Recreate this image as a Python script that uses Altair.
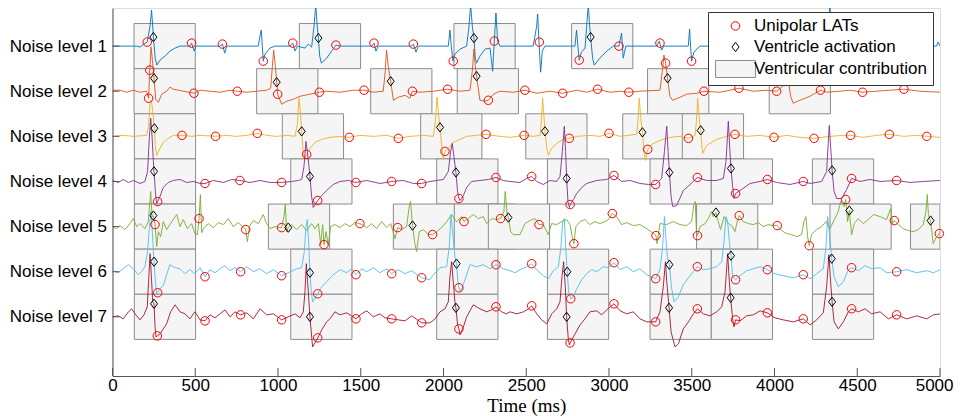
import altair as alt
import pandas as pd

ROW_LABELS = ["Noise level 1", "Noise level 2", "Noise level 3", "Noise level 4",
              "Noise level 5", "Noise level 6", "Noise level 7"]
ROW_COLORS = ["#0072BD", "#D95319", "#EDB120", "#7E2F8E", "#77AC30", "#4DBEEE", "#A2142F"]
SPACING = 45          # vertical offset between stacked traces (a.u.)
BOX_MS = 370          # width of a ventricular contribution window (ms)
X_TICKS = [0, 500, 1000, 1500, 2000, 2500, 3000, 3500, 4000, 4500, 5000]
KINDS = ["Unipolar LATs", "Ventricle activation", "Ventricular contribution"]

# ---- traces: (time ms, amplitude a.u.) ----
trace1 = [(0,0),(146,0),(166,-1),(190,2),(210,4),(227,20),(236,36),(243,20),(247,9),(258,-12),(268,-19),
          (287,-14),(317,-10),(347,-5),(378,-2),(408,0),(468,0),(478,3),(494,-5),(505,0),(650,0),(664,2),
          (678,-7),(690,0),(881,0),(891,10),(899,16),(905,0),(911,-15),(921,-8),(952,-2),(982,0),(1072,0),
          (1089,3),(1103,-5),(1117,0),(1163,-2),(1183,2),(1203,-1),(1218,20),(1228,41),(1237,20),(1244,8),
          (1252,-10),(1262,-17),(1294,-12),(1324,-5),(1350,1),(1375,0),(1566,0),(1580,3),(1592,-5),(1606,0),
          (1808,0),(1818,2),(1834,-6),(1848,0),(2029,0),(2039,16),(2047,0),(2057,-15),(2069,-8),(2100,-3),
          (2140,0),(2154,20),(2164,41),(2174,20),(2184,8),(2192,-12),(2200,-17),(2220,-10),(2251,-3),
          (2281,-2),(2297,-25),(2307,5),(2317,33),(2327,5),(2341,0),(2542,0),(2563,20),(2569,32),(2577,4),
          (2583,-15),(2587,-26),(2597,-5),(2613,0),(2794,0),(2804,16),(2812,0),(2820,-14),(2834,-6),
          (2855,-2),(2865,20),(2875,41),(2883,20),(2889,9),(2901,-12),(2911,-19),(2945,-12),(2986,-5),
          (3026,0),(3060,0),(3076,13),(3086,-12),(3102,0),(3288,0),(3304,5),(3318,-4),(3332,0),(3479,0),
          (3487,17),(3493,0),(3499,-15),(3513,-6),(3549,0),(4315,0),(4325,20),(4335,41),(4345,10),
          (4355,-15),(4370,-8),(4400,0),(4979,0),(4989,4),(5000,0)]
trace2 = [(0,1),(45,1),(86,-1),(126,1),(166,-1),(206,0),(218,-7),(225,21),(233,44),(243,28),(251,13),
          (261,-8),(277,-11),(297,-3),(327,0),(347,4),(368,2),(428,0),(492,-2),(529,1),(589,0),(650,-1),
          (710,1),(754,0),(811,-1),(871,0),(931,1),(956,3),(966,25),(974,41),(984,25),(992,9),(998,-3),
          (1022,-13),(1052,-10),(1093,-8),(1133,-5),(1193,-3),(1250,-1),(1294,0),(1375,-1),(1455,1),
          (1520,1),(1576,-1),(1636,0),(1648,20),(1656,41),(1666,25),(1681,10),(1697,-9),(1727,-6),
          (1767,-4),(1797,-7),(1812,0),(1858,-1),(1939,0),(2025,2),(2100,0),(2160,1),(2174,20),(2184,42),
          (2192,25),(2200,15),(2220,-9),(2251,-10),(2271,-9),(2301,-3),(2341,0),(2422,-1),(2492,1),
          (2563,-2),(2643,0),(2720,-2),(2804,1),(2865,-1),(2931,2),(3006,-1),(3066,0),(3120,-1),(3187,0),
          (3308,1),(3322,20),(3332,36),(3342,28),(3354,13),(3368,-5),(3384,-9),(3429,-6),(3469,-3),
          (3529,-2),(3574,0),(3670,-1),(3731,1),(3785,3),(3872,0),(3952,1),(4013,0),(4049,5),(4063,36),
          (4073,25),(4085,10),(4097,-5),(4113,-12),(4154,-9),(4214,-5),(4278,1),(4315,-1),(4395,0),
          (4456,1),(4532,-1),(4617,0),(4697,1),(4782,2),(4879,0),(5000,-1)]
trace3 = [(0,0),(65,1),(126,0),(206,1),(218,10),(227,34),(235,36),(243,25),(253,8),(259,-10),(267,-19),
          (287,-12),(307,-6),(337,-2),(368,1),(420,1),(478,0),(529,1),(623,0),(690,1),(750,0),(811,1),
          (875,3),(931,1),(992,0),(1052,1),(1103,0),(1117,12),(1127,38),(1135,25),(1143,5),(1153,-18),
          (1163,-22),(1173,-18),(1193,-12),(1224,-6),(1264,-3),(1314,-1),(1375,0),(1431,-1),(1495,1),
          (1576,0),(1657,1),(1727,-2),(1797,0),(1878,1),(1939,0),(1951,15),(1961,39),(1971,20),(1979,9),
          (1989,-10),(1999,-22),(2009,-15),(2029,-12),(2059,-6),(2100,-3),(2140,0),(2200,1),(2257,2),
          (2341,0),(2402,-1),(2487,1),(2543,0),(2583,1),(2591,15),(2599,38),(2607,20),(2613,5),(2624,-12),
          (2634,-19),(2654,-12),(2684,-7),(2724,-3),(2760,-2),(2805,0),(2885,1),(2946,0),(3000,3),(3067,0),
          (3167,2),(3175,15),(3183,38),(3191,20),(3202,4),(3212,-15),(3220,-24),(3234,-13),(3258,-8),
          (3308,-4),(3369,-1),(3429,0),(3480,-2),(3520,1),(3528,15),(3536,38),(3544,20),(3554,6),(3560,-8),
          (3566,-17),(3590,-9),(3651,-3),(3711,0),(3761,2),(3832,0),(3913,1),(3997,-1),(4074,1),(4154,-1),
          (4239,-2),(4335,0),(4416,1),(4460,1),(4537,-1),(4617,1),(4694,2),(4779,0),(4859,1),(4920,0),
          (5000,-1)]
trace4 = [(0,1),(35,-1),(65,2),(96,-1),(126,1),(166,-2),(196,0),(212,10),(223,45),(231,63),(239,45),
          (247,20),(251,10),(259,-10),(267,-22),(273,-20),(287,-15),(307,-6),(337,-1),(368,1),(408,2),
          (448,-1),(488,0),(529,-2),(559,-2),(609,1),(670,-1),(720,2),(770,1),(831,-1),(891,1),(952,-1),
          (1022,-1),(1083,0),(1123,1),(1143,2),(1157,15),(1169,40),(1177,30),(1187,15),(1193,5),(1203,-15),
          (1213,-26),(1240,-19),(1264,-14),(1294,-9),(1334,-3),(1375,0),(1425,1),(1471,-1),(1536,1),
          (1616,-2),(1687,0),(1757,1),(1818,-2),(1868,-2),(1918,0),(1959,1),(1999,2),(2029,10),(2043,30),
          (2053,38),(2063,25),(2075,9),(2085,-10),(2093,-17),(2100,-19),(2120,-14),(2140,-6),(2170,0),
          (2220,1),(2271,2),(2317,4),(2361,1),(2402,0),(2462,-1),(2503,3),(2533,5),(2563,0),(2603,-3),
          (2644,1),(2684,0),(2704,5),(2718,30),(2730,55),(2738,30),(2744,3),(2752,-20),(2761,-26),
          (2765,-23),(2785,-18),(2805,-12),(2835,-6),(2865,-2),(2926,1),(2986,2),(3030,6),(3077,0),
          (3127,1),(3187,-2),(3238,-3),(3282,-3),(3318,3),(3335,30),(3349,55),(3357,30),(3365,9),
          (3375,-15),(3385,-25),(3409,-24),(3449,-9),(3490,-3),(3534,4),(3590,1),(3651,1),(3691,3),
          (3707,20),(3721,60),(3729,35),(3737,13),(3747,-5),(3755,-17),(3765,-12),(3792,-9),(3852,-2),
          (3913,0),(3957,2),(4013,-1),(4094,-3),(4174,0),(4215,-2),(4285,0),(4315,10),(4331,56),(4339,35),
          (4348,11),(4360,-10),(4376,-17),(4406,-17),(4436,-8),(4466,3),(4517,0),(4577,2),(4638,0),
          (4738,1),(4819,-1),(4899,0),(5000,1)]
trace5 = [(0,0),(25,-2),(45,1),(75,-3),(106,3),(126,8),(146,0),(166,3),(196,-2),(216,5),(231,35),(239,10),
          (247,11),(257,2),(267,-20),(277,-5),(291,-10),(307,5),(327,-3),(358,5),(388,12),(408,0),(428,7),
          (452,-2),(478,3),(498,-7),(513,-8),(523,8),(531,32),(539,-6),(553,-1),(579,3),(609,-1),(639,4),
          (670,2),(700,8),(730,0),(760,4),(791,-1),(805,-3),(815,-15),(827,0),(851,6),(881,3),(911,12),
          (931,3),(952,-2),(982,0),(1012,-1),(1022,-1),(1036,10),(1044,22),(1052,-5),(1062,-1),(1083,2),
          (1113,-3),(1143,2),(1173,-4),(1203,3),(1224,-2),(1244,3),(1258,-18),(1270,2),(1278,-18),(1290,-5),
          (1304,-18),(1318,0),(1344,2),(1375,-1),(1405,3),(1435,0),(1465,4),(1495,3),(1536,-1),(1566,3),
          (1596,-2),(1626,5),(1657,-1),(1681,3),(1707,-12),(1723,-1),(1747,-3),(1777,0),(1793,20),(1801,25),
          (1813,1),(1825,-15),(1837,-25),(1854,-5),(1878,-3),(1908,-8),(1934,-8),(1959,-5),(1989,-1),
          (2019,5),(2049,12),(2079,5),(2110,10),(2124,5),(2150,8),(2180,12),(2210,8),(2240,10),(2261,3),
          (2291,8),(2321,7),(2345,8),(2365,15),(2373,35),(2385,12),(2392,9),(2406,-5),(2422,-8),(2462,-8),
          (2492,3),(2522,6),(2553,8),(2577,2),(2603,2),(2633,-8),(2653,3),(2684,2),(2714,5),(2744,7),
          (2764,2),(2780,-12),(2788,-17),(2800,0),(2825,5),(2855,7),(2885,2),(2915,5),(2945,3),(2976,5),
          (2996,7),(3020,13),(3046,10),(3076,2),(3106,4),(3147,1),(3187,2),(3227,-2),(3270,-7),(3284,-9),
          (3290,-17),(3308,3),(3348,2),(3388,5),(3429,2),(3469,1),(3499,5),(3513,22),(3521,25),(3528,-5),
          (3535,-9),(3550,0),(3580,3),(3600,8),(3620,15),(3630,10),(3646,14),(3660,5),(3674,-3),(3695,10),
          (3715,4),(3741,1),(3761,-5),(3775,5),(3787,11),(3811,5),(3842,3),(3872,2),(3902,4),(3932,0),
          (3962,2),(3993,1),(4017,1),(4043,-4),(4073,-7),(4103,-8),(4134,-10),(4164,-8),(4178,5),(4190,10),
          (4200,-10),(4210,-19),(4224,-8),(4254,-3),(4285,0),(4311,5),(4335,-2),(4365,8),(4385,15),
          (4400,25),(4420,20),(4430,27),(4442,5),(4452,16),(4466,-8),(4482,3),(4506,8),(4536,3),(4567,7),
          (4597,12),(4637,10),(4677,7),(4702,18),(4714,3),(4724,6),(4748,2),(4778,-2),(4808,-4),(4838,-5),
          (4869,-3),(4899,2),(4915,15),(4923,32),(4930,12),(4943,6),(4959,-17),(4979,-10),(4996,-7),
          (5000,-6)]
trace6 = [(0,1),(35,-1),(65,3),(96,7),(126,3),(156,-3),(176,0),(196,5),(212,20),(223,45),(231,60),(239,45),
          (247,20),(251,10),(259,-10),(267,-22),(273,-21),(287,-17),(307,-14),(327,-3),(347,7),(378,4),
          (408,3),(438,-2),(468,2),(498,-2),(529,4),(559,-5),(589,2),(619,-1),(650,3),(680,6),(710,1),
          (740,4),(774,0),(811,5),(851,0),(891,3),(931,-2),(972,2),(1022,-4),(1062,-1),(1113,3),(1143,4),
          (1159,20),(1169,45),(1177,52),(1185,30),(1193,-1),(1201,-20),(1209,-30),(1240,-22),(1264,-15),
          (1294,-10),(1334,-3),(1375,2),(1415,-1),(1445,3),(1471,-3),(1505,3),(1536,0),(1576,4),(1616,-1),
          (1657,3),(1687,-2),(1727,2),(1767,-2),(1808,1),(1868,-6),(1918,-8),(1939,-3),(1979,4),(2019,5),
          (2035,25),(2045,57),(2055,40),(2069,15),(2079,8),(2087,-10),(2093,-16),(2103,-20),(2130,-8),
          (2160,7),(2200,5),(2240,7),(2281,3),(2317,7),(2361,3),(2402,1),(2432,-1),(2462,2),(2503,5),
          (2533,8),(2563,2),(2603,-4),(2634,-7),(2664,1),(2694,5),(2710,25),(2720,50),(2730,53),(2738,25),
          (2748,0),(2756,-20),(2769,-27),(2781,-26),(2805,-17),(2835,-8),(2865,-2),(2895,2),(2926,0),
          (2966,5),(2996,4),(3030,9),(3067,2),(3107,5),(3147,0),(3187,3),(3228,-3),(3282,-7),(3308,2),
          (3324,25),(3335,55),(3343,35),(3353,15),(3365,7),(3377,-15),(3393,-30),(3419,-25),(3449,-13),
          (3480,-6),(3510,0),(3534,5),(3570,2),(3610,3),(3651,5),(3681,10),(3695,30),(3707,55),(3717,50),
          (3727,30),(3737,16),(3747,-5),(3765,-8),(3792,-4),(3832,1),(3872,3),(3913,5),(3957,2),(4003,-2),
          (4053,-4),(4114,-6),(4174,-3),(4215,-7),(4255,-2),(4295,3),(4311,25),(4321,55),(4331,40),
          (4346,13),(4360,-5),(4386,-15),(4416,-10),(4446,2),(4466,4),(4507,1),(4547,6),(4587,3),(4638,4),
          (4678,-1),(4738,0),(4799,2),(4859,-1),(4920,1),(4960,-1),(5000,2)]
trace7 = [(0,0),(35,1),(65,-2),(96,5),(116,8),(136,3),(166,-3),(190,2),(210,10),(218,35),(227,63),(235,40),
          (243,15),(251,13),(257,-10),(263,-20),(271,-19),(287,-17),(307,-12),(327,-7),(351,5),(378,12),
          (408,5),(438,3),(468,-2),(498,5),(529,-3),(559,-4),(589,2),(619,-1),(650,3),(680,7),(710,0),
          (740,5),(774,2),(811,4),(851,-2),(891,8),(931,2),(972,3),(1022,-3),(1062,0),(1103,3),(1133,-1),
          (1153,5),(1163,25),(1171,53),(1179,35),(1187,15),(1193,0),(1201,-15),(1209,-30),(1223,-26),
          (1240,-21),(1264,-13),(1294,-5),(1314,-2),(1344,5),(1375,2),(1415,4),(1445,1),(1471,-2),(1505,3),
          (1536,6),(1576,0),(1616,3),(1646,-1),(1687,-2),(1727,-3),(1767,-4),(1808,1),(1868,-6),(1918,-6),
          (1949,-2),(1979,5),(2009,8),(2029,15),(2039,40),(2049,55),(2059,35),(2069,15),(2075,9),(2085,-8),
          (2093,-12),(2100,-18),(2120,-10),(2140,0),(2180,12),(2220,8),(2261,5),(2291,7),(2317,10),(2351,5),
          (2380,3),(2402,5),(2442,3),(2483,5),(2513,8),(2533,11),(2563,3),(2593,-3),(2624,-7),(2654,3),
          (2684,8),(2704,15),(2716,40),(2726,55),(2736,30),(2744,0),(2754,-22),(2761,-28),(2765,-26),
          (2795,-17),(2825,-8),(2855,-2),(2885,5),(2926,6),(2956,2),(2986,7),(3030,13),(3067,6),(3107,3),
          (3147,5),(3187,-2),(3228,-5),(3282,-5),(3308,5),(3328,30),(3341,55),(3349,35),(3363,9),(3375,-15),
          (3399,-30),(3419,-27),(3449,-12),(3480,-5),(3510,3),(3534,8),(3570,3),(3610,1),(3651,5),(3681,10),
          (3701,25),(3717,63),(3727,35),(3735,19),(3747,-2),(3755,-10),(3765,-3),(3792,-4),(3832,1),
          (3872,2),(3913,6),(3957,4),(4003,-1),(4053,-3),(4114,-5),(4174,-2),(4215,-8),(4255,-3),(4295,4),
          (4315,30),(4329,62),(4337,40),(4348,15),(4360,-5),(4386,-12),(4416,-5),(4446,5),(4466,8),(4507,5),
          (4547,8),(4587,3),(4638,5),(4688,-2),(4738,2),(4799,-2),(4859,1),(4920,-2),(4960,2),(5000,3)]

# ---- unipolar LATs (circles) ----
lats1 = [(210,4),(478,3),(664,2),(911,-15),(1089,3),(1350,1),(1580,3),(1818,2),(2059,-15),(2307,5),
         (2579,4),(2820,-14),(3060,0),(3308,3),(3499,-15)]
lats2 = [(218,-7),(225,21),(492,-2),(754,0),(998,-3),(1250,-1),(1520,1),(1812,0),(2025,2),(2271,-9),
         (2492,1),(2720,-2),(2931,2),(3120,-1),(3342,28),(3574,0),(3785,3),(4013,0),(4278,1),(4532,-1),
         (4782,2)]
lats3 = [(420,1),(623,0),(875,3),(1173,-18),(1431,-1),(1727,-2),(2009,-15),(2257,2),(2487,1),(2760,-2),
         (3000,3),(3234,-13),(3480,-2),(3761,2),(3997,-1),(4239,-2),(4460,1),(4694,2),(4920,0)]
lats4 = [(273,-20),(559,-2),(770,1),(1022,-1),(1240,-19),(1471,-1),(1687,0),(1868,-2),(2093,-17),
         (2317,4),(2533,5),(2765,-23),(3030,6),(3282,-3),(3534,4),(3765,-12),(3957,2),(4174,0),(4466,3),
         (4738,1)]
lats5 = [(257,2),(523,8),(805,-3),(1022,-1),(1278,-18),(1495,3),(1723,-1),(1934,-8),(2124,5),(2345,8),
         (2577,2),(2788,-17),(3020,13),(3284,-9),(3535,-9),(3787,11),(4017,1),(4210,-19),(4430,27),
         (4724,6),(4996,-7)]
lats6 = [(273,-21),(559,-5),(774,0),(1022,-4),(1240,-22),(1471,-3),(1687,-2),(1868,-6),(2093,-16),
         (2317,7),(2533,8),(2769,-27),(3030,9),(3282,-7),(3534,5),(3765,-8),(3957,2),(4174,-3),(4466,4),
         (4738,0)]
lats7 = [(271,-19),(559,-4),(774,2),(1022,-3),(1240,-21),(1471,-2),(1687,-2),(1868,-6),(2093,-12),
         (2317,10),(2533,11),(2765,-26),(3030,13),(3282,-5),(3534,8),(3765,-3),(3957,4),(4174,-2),
         (4466,8),(4738,2)]

# ---- ventricle activations (diamonds) ----
vact1 = [(247,9),(1244,8),(2184,8),(2889,9)]
vact2 = [(251,13),(992,9),(1681,10),(2200,15),(3354,13),(4085,10)]
vact3 = [(253,8),(1143,5),(1979,9),(2613,5),(3202,4),(3554,6)]
vact4 = [(251,10),(1193,5),(2075,9),(2744,3),(3365,9),(3737,13),(4348,11)]
vact5 = [(247,11),(1062,-1),(1813,1),(2392,9),(3646,14),(4452,16),(4943,6)]
vact6 = [(251,10),(1193,-1),(2079,8),(2748,0),(3365,7),(3737,16),(4346,13)]
vact7 = [(251,13),(1193,0),(2075,9),(2744,0),(3363,9),(3735,19),(4348,15)]

# ---- ventricular contribution windows (start, ms) ----
win1 = [130, 1129, 2063, 2774]
win2 = [130, 871, 1560, 2083, 3233, 3968]
win3 = [132, 1026, 1862, 2497, 3083, 3443]
win4 = [132, 1077, 1959, 2628, 3248, 3618, 4229]
win5 = [132, 942, 1697, 2065, 2271, 3529, 4335, 4822]
win6 = [132, 1077, 1959, 2628, 3248, 3618, 4229]
win7 = [132, 1077, 1959, 2628, 3248, 3618, 4229]

traces = [trace1, trace2, trace3, trace4, trace5, trace6, trace7]
lats = [lats1, lats2, lats3, lats4, lats5, lats6, lats7]
vacts = [vact1, vact2, vact3, vact4, vact5, vact6, vact7]
wins = [win1, win2, win3, win4, win5, win6, win7]

line_rows, mark_rows, box_rows, base_rows = [], [], [], []
for i, lab in enumerate(ROW_LABELS, start=1):
    base = -SPACING * i
    base_rows.append({"base": base})
    for t, v in traces[i - 1]:
        line_rows.append({"row": lab, "t": t, "y": base + v})
    for t, v in lats[i - 1]:
        mark_rows.append({"kind": KINDS[0], "t": t, "y": base + v, "o": 0})
    for t, v in vacts[i - 1]:
        mark_rows.append({"kind": KINDS[1], "t": t, "y": base + v, "o": 1})
    for s in wins[i - 1]:
        box_rows.append({"t0": s, "t1": min(s + BOX_MS, 5000),
                         "y0": base - SPACING / 2, "y1": base + SPACING / 2})

line_df = pd.DataFrame(line_rows)
mark_df = pd.DataFrame(mark_rows)
box_df = pd.DataFrame(box_rows)
base_df = pd.DataFrame(base_rows)
tick_df = pd.DataFrame({"t": X_TICKS})

AXIS_COLOR = "#555555"
xscale = alt.Scale(domain=[0, 5000], nice=False, zero=False)
yscale = alt.Scale(domain=[-374, -7], nice=False, zero=False)
xaxis = alt.Axis(values=X_TICKS, title="Time (ms)", grid=False, ticks=False, tickSize=0,
                 labelPadding=1, labelFontSize=17, labelFont="Liberation Sans", labelColor="#000000",
                 labelFlush=False, labelOverlap=False, format="d", domainColor=AXIS_COLOR,
                 labelAlign=alt.condition("datum.value == 5000", alt.value("right"), alt.value("center")),
                 labelOffset=alt.condition("datum.value == 5000", alt.value(13), alt.value(0)),
                 titleFont="Liberation Serif", titleFontSize=19, titleFontWeight="normal",
                 titleColor="#000000", titlePadding=3)
yaxis = alt.Axis(values=[-SPACING * k for k in range(1, 8)], title=None, grid=False, ticks=False,
                 tickSize=0, labelPadding=6, labelFontSize=17, labelFont="Liberation Sans",
                 labelColor="#000000", domainColor=AXIS_COLOR,
                 labelExpr="'Noise level ' + format(-datum.value/45, 'd')")

boxes = alt.Chart(box_df).mark_rect(fill="#f5f5f5", stroke="#8c8c8c", strokeWidth=1, clip=True).encode(
    x=alt.X("t0:Q", scale=xscale, axis=xaxis),
    x2="t1:Q",
    y=alt.Y("y0:Q", scale=yscale, axis=yaxis),
    y2="y1:Q",
)

lines = alt.Chart(line_df).mark_line(strokeWidth=1, clip=True, opacity=0.9).encode(
    x=alt.X("t:Q", scale=xscale, axis=xaxis),
    y=alt.Y("y:Q", scale=yscale, axis=yaxis),
    color=alt.Color("row:N", scale=alt.Scale(domain=ROW_LABELS, range=ROW_COLORS), legend=None),
)

xticks = alt.Chart(tick_df).mark_rule(color=AXIS_COLOR, strokeWidth=1).encode(
    x=alt.X("t:Q", scale=xscale, axis=xaxis),
    y=alt.value(360), y2=alt.value(368),
)

yticks = alt.Chart(base_df).mark_rule(color=AXIS_COLOR, strokeWidth=1).encode(
    y=alt.Y("base:Q", scale=yscale, axis=yaxis),
    x=alt.value(0), x2=alt.value(7),
)

SHAPES = ["circle", "M0,-1.1L0.83,0L0,1.1L-0.83,0Z", "M-4.7,-2L4.7,-2L4.7,2L-4.7,2Z"]
leg = alt.Legend(title=None, orient="none", legendX=595.5, legendY=4, padding=5.5,
                 symbolOffset=13.5, labelOffset=10, rowPadding=3, labelFont="Liberation Sans",
                 labelFontSize=17, labelColor="#000000", labelLimit=400, strokeColor="#333333",
                 fillColor="#ffffff", symbolSize=72, symbolStrokeWidth=1, cornerRadius=0)

points = alt.Chart(mark_df).mark_point(filled=False, size=72, strokeWidth=1, opacity=1).encode(
    x=alt.X("t:Q", scale=xscale, axis=xaxis),
    y=alt.Y("y:Q", scale=yscale, axis=yaxis),
    shape=alt.Shape("kind:N", scale=alt.Scale(domain=KINDS, range=SHAPES), legend=leg),
    stroke=alt.Stroke("kind:N", scale=alt.Scale(domain=KINDS, range=["#ff0000", "#000000", "#8c8c8c"]),
                      legend=leg),
    fill=alt.Fill("kind:N", scale=alt.Scale(domain=KINDS, range=["transparent", "transparent", "#f5f5f5"]),
                  legend=leg),
    order=alt.Order("o:Q"),
)

chart = alt.layer(boxes, lines, xticks, yticks, points).properties(
    width=827.5, height=368,
    autosize=alt.AutoSizeParams(type="none"),
    padding={"left": 104.5, "top": 0, "right": 14, "bottom": 40},
).configure_view(stroke=None).configure(background="white")

chart.save("out.html", embed_options={"renderer": "svg", "actions": False})
